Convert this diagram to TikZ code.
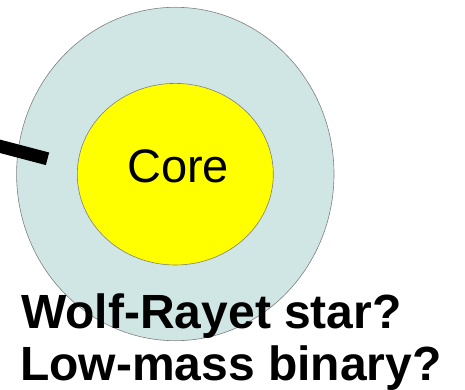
\documentclass[tikz,border=0pt]{standalone}
\usepackage{fontspec}
\setmainfont{Liberation Sans}
\definecolor{envel}{RGB}{207,230,228}
\definecolor{rim}{RGB}{128,128,128}
\definecolor{coreyel}{RGB}{255,255,0}
\begin{document}
\begin{tikzpicture}[x=1pt,y=-1pt,
  shell/.style={draw=rim,line width=0.6pt},
  bigtext/.style={font=\fontsize{48}{52}\selectfont\bfseries,anchor=base west,inner sep=0pt},
  coretext/.style={font=\fontsize{47}{52}\selectfont,anchor=base,inner sep=0pt}]
\useasboundingbox (0,0) rectangle (465,390);
\fill[white] (0,0) rectangle (465,390);
\draw[shell,fill=envel] (175.3,174) ellipse [x radius=158.7,y radius=166.7];
\draw[shell,fill=coreyel] (175.3,174.2) ellipse [x radius=98,y radius=90.8];
\node[coretext] (core) at (178,182) {Core};
\coordinate (barA) at (-5,145);
\coordinate (barB) at (47.5,158.8);
\draw[line width=13pt,black] (barA) -- (barB);
\node[bigtext] (wr) at (21,328) {Wolf-Rayet star?};
\node[bigtext] (lm) at (20,380) {Low-mass binary?};
\end{tikzpicture}
\end{document}
